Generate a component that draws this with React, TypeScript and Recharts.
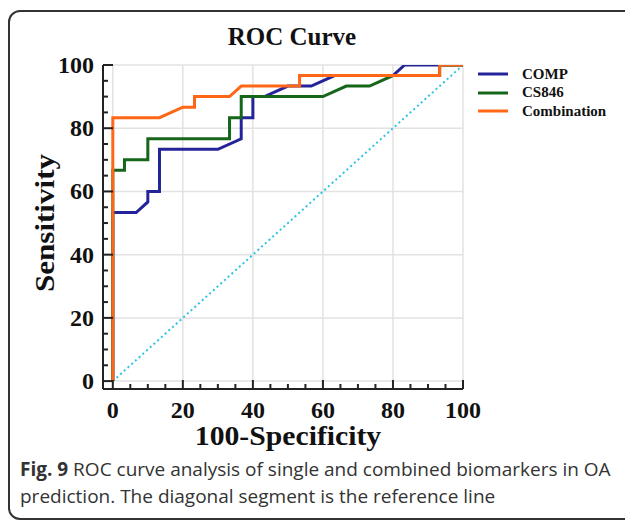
import * as React from "react";
import { LineChart, Line, XAxis, YAxis, ReferenceLine } from "recharts";

// ROC points (100-Specificity, Sensitivity)
const compX = [0, 0, 6.67, 10, 10, 13.33, 13.33, 30, 36.67, 36.67, 40, 40, 43.33, 50, 56.67, 63.33, 80, 83.33, 100];
const compY = [0, 53.33, 53.33, 56.67, 60, 60, 73.33, 73.33, 76.67, 83.33, 83.33, 90, 90, 93.33, 93.33, 96.67, 96.67, 100, 100];

const cs846X = [0, 0, 3.33, 3.33, 10, 10, 33.33, 33.33, 36.67, 36.67, 60, 66.67, 73.33, 80, 93.33, 93.33, 100];
const cs846Y = [0, 66.67, 66.67, 70, 70, 76.67, 76.67, 83.33, 83.33, 90, 90, 93.33, 93.33, 96.67, 96.67, 100, 100];

const combX = [0, 0, 13.33, 20, 23.33, 23.33, 33.33, 36.67, 53.33, 53.33, 93.33, 93.33, 100];
const combY = [0, 83.33, 83.33, 86.67, 86.67, 90, 90, 93.33, 93.33, 96.67, 96.67, 100, 100];

const refX = [0, 100];
const refY = [0, 100];

const xTicks = [0, 5, 10, 15, 20, 25, 30, 35, 40, 45, 50, 55, 60, 65, 70, 75, 80, 85, 90, 95, 100];
const yTicks = [0, 5, 10, 15, 20, 25, 30, 35, 40, 45, 50, 55, 60, 65, 70, 75, 80, 85, 90, 95, 100];
const gridValues = [0, 20, 40, 60, 80, 100];

const seriesNames = ["COMP", "CS846", "Combination"];
const seriesColors = ["#24249a", "#16661a", "#ff6616"];

const zip = (xs: number[], ys: number[]) => xs.map((x, i) => ({ x, y: ys[i] }));

const compData = zip(compX, compY);
const cs846Data = zip(cs846X, cs846Y);
const combData = zip(combX, combY);
const refData = zip(refX, refY);

const serif = '"Liberation Serif", "Times New Roman", serif';
const axisColor = "#222";

function XTick(props: any) {
  const { x, y, payload } = props;
  const major = payload.value % 20 === 0;
  return (
    <g>
      <line x1={x} x2={x} y1={y} y2={y - (major ? 9 : 5)} stroke={axisColor} strokeWidth={2} />
      {major && (
        <text x={x} y={y + 21} textAnchor="middle" dominantBaseline="central"
          fontFamily={serif} fontWeight="bold" fontSize={24} fill="#111">
          {payload.value}
        </text>
      )}
    </g>
  );
}

function YTick(props: any) {
  const { x, y, payload } = props;
  const major = payload.value % 20 === 0;
  return (
    <g>
      <line x1={x} x2={x + (major ? 10 : 5)} y1={y} y2={y} stroke={axisColor} strokeWidth={2} />
      {major && (
        <text x={x - 9} y={y} textAnchor="end" dominantBaseline="central"
          fontFamily={serif} fontWeight="bold" fontSize={24} fill="#111">
          {payload.value}
        </text>
      )}
    </g>
  );
}

export default function App() {
  return (
    <div style={{ position: "absolute", left: 0, top: 0, width: 625, height: 520, overflow: "hidden", background: "#fff" }}>
      <div style={{
        position: "absolute", left: 8, top: 10, width: 700, height: 506,
        border: "2px solid #333", borderRadius: 12,
      }} />

      <div style={{
        position: "absolute", left: 192, width: 200, top: 22, textAlign: "center",
        fontFamily: serif, fontWeight: "bold", fontSize: 25, lineHeight: "30px", color: "#111",
      }}>
        ROC Curve
      </div>

      <LineChart width={625} height={520} margin={{ top: 65, right: 162, left: 43, bottom: 91 }}
        style={{ position: "absolute", left: 0, top: 0 }}>
        <XAxis type="number" dataKey="x" domain={[-2.8, 100]} ticks={xTicks} allowDataOverflow
          height={40} tickSize={0} tickMargin={0} tickLine={false} interval={0}
          axisLine={{ stroke: axisColor, strokeWidth: 2 }} tick={<XTick />} />
        <YAxis type="number" dataKey="y" domain={[-2.5, 100]} ticks={yTicks} allowDataOverflow
          width={60} tickSize={0} tickMargin={0} tickLine={false} interval={0}
          axisLine={{ stroke: axisColor, strokeWidth: 2 }} tick={<YTick />} />
        {gridValues.map((v) => (
          <ReferenceLine key={"gx" + v} x={v} stroke="#e2e2e2" strokeWidth={1.5} />
        ))}
        {gridValues.map((v) => (
          <ReferenceLine key={"gy" + v} y={v} stroke="#e2e2e2" strokeWidth={1.5} />
        ))}
        <Line data={refData} dataKey="y" type="linear" stroke="#2cc3e4" strokeWidth={2}
          strokeDasharray="2 3" dot={false} isAnimationActive={false} />
        <Line data={compData} dataKey="y" name={seriesNames[0]} type="linear" stroke={seriesColors[0]}
          strokeWidth={3} dot={false} isAnimationActive={false} />
        <Line data={cs846Data} dataKey="y" name={seriesNames[1]} type="linear" stroke={seriesColors[1]}
          strokeWidth={3} dot={false} isAnimationActive={false} />
        <Line data={combData} dataKey="y" name={seriesNames[2]} type="linear" stroke={seriesColors[2]}
          strokeWidth={3} dot={false} isAnimationActive={false} />
      </LineChart>

      {seriesNames.map((name, i) => (
        <div key={name} style={{ position: "absolute", left: 478, top: 65 + i * 18.5, height: 18, display: "flex", alignItems: "center" }}>
          <svg width={30} height={18}>
            <line x1={0} x2={30} y1={9} y2={9} stroke={seriesColors[i]} strokeWidth={3} />
          </svg>
          <span style={{ marginLeft: 14, fontFamily: serif, fontWeight: "bold", fontSize: 15, color: "#111", whiteSpace: "nowrap" }}>
            {name}
          </span>
        </div>
      ))}

      <div style={{
        position: "absolute", left: 45, top: 223, transform: "translate(-50%, -50%) rotate(-90deg) scaleX(1.15)",
        fontFamily: serif, fontWeight: "bold", fontSize: 27, color: "#111", whiteSpace: "nowrap",
      }}>
        Sensitivity
      </div>
      <div style={{
        position: "absolute", left: 288, top: 436, transform: "translate(-50%, -50%) scaleX(1.1)",
        fontFamily: serif, fontWeight: "bold", fontSize: 27, color: "#111", whiteSpace: "nowrap",
      }}>
        100-Specificity
      </div>

      <div style={{
        position: "absolute", left: 20, top: 456, fontFamily: '"Open Sans", sans-serif',
        fontSize: 19, lineHeight: "27px", color: "#333", whiteSpace: "nowrap",
      }}>
        <b>Fig. 9</b> ROC curve analysis of single and combined biomarkers in OA<br />
        prediction. The diagonal segment is the reference line
      </div>
    </div>
  );
}
